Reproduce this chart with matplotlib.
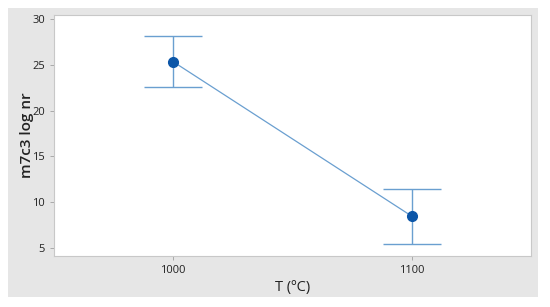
import matplotlib.pyplot as plt
from matplotlib.patches import Rectangle

plt.rcParams['font.family'] = ['Open Sans', 'DejaVu Sans']

temps = ['1000', '1100']
means = [25.35, 8.5]
lower = [22.6, 5.4]
upper = [28.1, 11.5]

fig = plt.figure(figsize=(5.5, 3.07), dpi=100)
fig.add_artist(Rectangle((0.0145, 0.033), 0.964, 0.941, transform=fig.transFigure,
                         facecolor='#e6e6e6', edgecolor='none', zorder=-5))
ax = fig.add_axes([0.098, 0.166, 0.867, 0.785])
ax.set_zorder(2)

x = list(range(len(temps)))
err = [[m - l for m, l in zip(means, lower)], [u - m for m, u in zip(means, upper)]]
ax.errorbar(x, means, yerr=err, fmt='none', ecolor='#6a9fd0', elinewidth=1.0,
            capsize=21, capthick=1.0, zorder=2)
ax.plot(x, means, color='#6a9fd0', lw=0.9, zorder=3)
ax.plot(x, means, 'o', color='#0b56a8', ms=7, zorder=4)

ax.set_xlim(-0.5, 1.5)
ax.set_ylim(4.13, 30.44)
ax.set_xticks(x)
ax.set_xticklabels(temps)
ax.set_yticks([5, 10, 15, 20, 25, 30])

for s in ax.spines.values():
    s.set_color('#c8c8c8')
    s.set_linewidth(0.8)
ax.tick_params(colors='#a0a0a0', labelcolor='#222222', labelsize=8, length=3, width=0.6)

ax.set_ylabel('m7c3 log nr', fontsize=11, fontweight='semibold', color='#222222', labelpad=-1)
ax.set_xlabel('T (ºC)', fontsize=10.5, color='#222222', labelpad=3)

fig.savefig('out.png', dpi=100)
